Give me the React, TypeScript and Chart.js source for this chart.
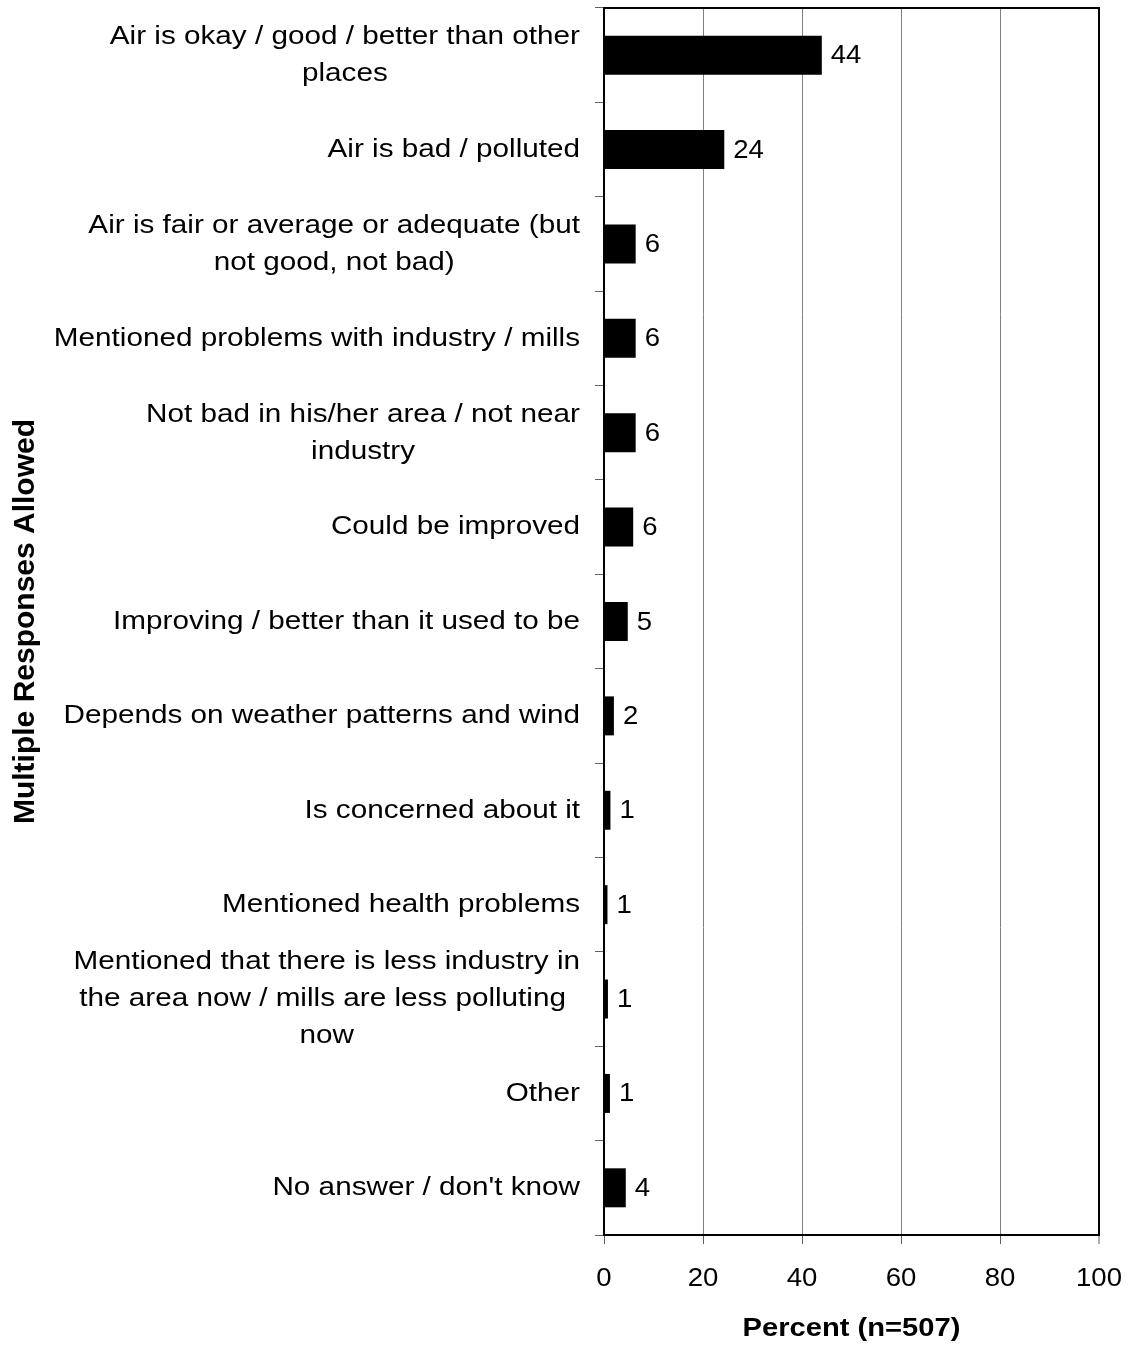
import React, { useEffect, useRef } from "react";
import { Chart, registerables } from "chart.js";

Chart.register(...registerables);

const categories: string[][] = [
  ["Air is okay / good / better than other", "places"],
  ["Air is bad / polluted"],
  ["Air is fair or average or adequate (but", "not good, not bad)"],
  ["Mentioned problems with industry / mills"],
  ["Not bad in his/her area / not near", "industry"],
  ["Could be improved"],
  ["Improving / better than it used to be"],
  ["Depends on weather patterns and wind"],
  ["Is concerned about it"],
  ["Mentioned health problems"],
  ["Mentioned that there is less industry in", "the area now / mills are less polluting ", "now"],
  ["Other"],
  ["No answer / don't know"],
];

const percentValues: number[] = [44, 24.3, 6.4, 6.4, 6.4, 5.9, 4.8, 2.0, 1.3, 0.7, 0.8, 1.2, 4.4];

const xTickValues: number[] = [0, 20, 40, 60, 80, 100];

const xTitle = "Percent (n=507)";
const yTitle = "Multiple Responses Allowed";

const FONT = "'Liberation Sans', Arial, Helvetica, sans-serif";

function drawStretched(
  ctx: CanvasRenderingContext2D,
  text: string,
  x: number,
  y: number,
  align: CanvasTextAlign,
  font: string,
  sx: number
) {
  ctx.save();
  ctx.font = font;
  ctx.fillStyle = "#000";
  ctx.textBaseline = "middle";
  ctx.textAlign = align;
  ctx.translate(x, y);
  ctx.scale(sx, 1);
  ctx.fillText(text, 0, 0);
  ctx.restore();
}

function measureStretched(ctx: CanvasRenderingContext2D, text: string, font: string, sx: number) {
  ctx.save();
  ctx.font = font;
  const w = ctx.measureText(text).width * sx;
  ctx.restore();
  return w;
}

const textPlugin = {
  id: "customText",
  afterDraw(chart: any) {
    const ctx: CanvasRenderingContext2D = chart.ctx;
    const area = chart.chartArea;
    const xScale = chart.scales.x;
    const yScale = chart.scales.y;

    // top frame line
    ctx.save();
    ctx.strokeStyle = "#000";
    ctx.lineWidth = 2;
    ctx.beginPath();
    ctx.moveTo(area.left - 1, area.top);
    ctx.lineTo(area.right + 1, area.top);
    ctx.stroke();
    ctx.restore();

    // category labels
    const labelFont = `26.5px ${FONT}`;
    const labelSx = 1.12;
    const lineH = 37;
    const rightEdge = area.left - 24;
    categories.forEach((lines, i) => {
      const yc = yScale.getPixelForValue(i);
      const widths = lines.map((l) => measureStretched(ctx, l, labelFont, labelSx));
      const blockW = Math.max(...widths);
      const cx = rightEdge - blockW / 2;
      lines.forEach((l, j) => {
        const y = yc + (j - (lines.length - 1) / 2) * lineH;
        drawStretched(ctx, l, cx, y, "center", labelFont, labelSx);
      });
    });

    // data labels
    const valFont = `25.5px ${FONT}`;
    const valSx = 1.08;
    const meta = chart.getDatasetMeta(0);
    meta.data.forEach((bar: any, i: number) => {
      drawStretched(ctx, String(Math.round(percentValues[i])), bar.x + 9, bar.y + 1, "left", valFont, valSx);
    });

    // x tick labels
    xTickValues.forEach((v) => {
      drawStretched(ctx, String(v), xScale.getPixelForValue(v), area.bottom + 44, "center", valFont, valSx);
    });

    // x title
    drawStretched(ctx, xTitle, (area.left + area.right) / 2, area.bottom + 94, "center", `bold 26.5px ${FONT}`, 1.1);

    // y title
    ctx.save();
    ctx.font = `bold 30px ${FONT}`;
    ctx.fillStyle = "#000";
    ctx.textAlign = "center";
    ctx.textBaseline = "alphabetic";
    ctx.translate(34, (area.top + area.bottom) / 2);
    ctx.rotate(-Math.PI / 2);
    ctx.fillText(yTitle, 0, 0);
    ctx.restore();
  },
};

export default function App() {
  const canvasRef = useRef<HTMLCanvasElement | null>(null);

  useEffect(() => {
    if (!canvasRef.current) return;
    const chart = new Chart(canvasRef.current, {
      type: "bar",
      data: {
        labels: categories.map((c) => c.join(" ")),
        datasets: [
          {
            data: percentValues,
            backgroundColor: "#000",
            borderWidth: 0,
            barPercentage: 0.413,
            categoryPercentage: 1,
          },
        ],
      },
      options: {
        indexAxis: "y",
        responsive: false,
        animation: false,
        layout: { padding: { top: 8, right: 31, left: 0, bottom: 0 } },
        plugins: {
          legend: { display: false },
          tooltip: { enabled: false },
        },
        scales: {
          x: {
            min: 0,
            max: 100,
            position: "bottom",
            ticks: { stepSize: 20, display: false },
            grid: {
              color: (c: any) => (c.tick && c.tick.value === 0 ? "rgba(0,0,0,0)" : c.tick && c.tick.value === 100 ? "#000" : "#808080"),
              lineWidth: (c: any) => (c.tick && c.tick.value === 100 ? 2 : 1),
              tickLength: 9,
              tickColor: "#606060",
              tickWidth: 1,
            },
            border: { color: "#000", width: 2 },
            afterFit: (s: any) => {
              s.height = 110;
            },
          },
          y: {
            ticks: { display: false },
            grid: {
              offset: true,
              drawOnChartArea: false,
              tickLength: 9,
              tickColor: "#606060",
              tickWidth: 1,
            },
            border: { color: "#000", width: 2 },
            afterFit: (s: any) => {
              s.width = 604;
            },
          },
        },
      } as any,
      plugins: [textPlugin],
    });
    return () => chart.destroy();
  }, []);

  return (
    <div style={{ position: "absolute", left: 0, top: 0, width: 1130, height: 1345, background: "#fff" }}>
      <canvas ref={canvasRef} width={1130} height={1345} style={{ display: "block" }} />
    </div>
  );
}
